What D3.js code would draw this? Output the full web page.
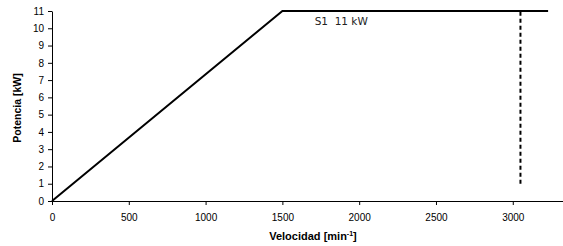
<!DOCTYPE html>
<html><head><meta charset="utf-8">
<script src="https://cdn.jsdelivr.net/npm/d3@7"></script>
<style>body{margin:0;background:#fff}svg{display:block}</style>
</head><body>
<svg id="c" width="563" height="246"></svg>
<script>
const xTicks = [0, 500, 1000, 1500, 2000, 2500, 3000];
const yTicks = [0,1,2,3,4,5,6,7,8,9,10,11];
const powerCurveX = [0, 1500, 3230];
const powerCurveY = [0, 11, 11];
const limitX = [3050, 3050];
const limitY = [1, 11];
const labelText = "S1  11 kW";

const svg = d3.select("#c");
const x = d3.scaleLinear().domain([0, 3327]).range([52, 563]);
const y = d3.scaleLinear().domain([0, 11]).range([201, 11]);

const xa = svg.append("g").attr("transform","translate(0,201)")
  .call(d3.axisBottom(x).tickValues(xTicks).tickSize(4).tickSizeOuter(0).tickFormat(d3.format("d")));
const ya = svg.append("g").attr("transform","translate(52,0)")
  .call(d3.axisLeft(y).tickValues(yTicks).tickSize(4).tickSizeOuter(0));
[xa, ya].forEach(a=>{
  a.selectAll("path,line").attr("stroke","#000").attr("stroke-width",1);
  a.selectAll("text").attr("font-family","Liberation Sans, Arial, sans-serif").attr("font-size","10px").attr("fill","#000");
});
xa.selectAll("text").attr("dy","1.25em");
ya.selectAll("text").attr("dx","-1px");

const line = d3.line().x(d=>x(d[0])).y(d=>y(d[1]));
svg.append("path").datum(powerCurveX.map((v,i)=>[v, powerCurveY[i]]))
  .attr("d", line).attr("fill","none").attr("stroke","#000").attr("stroke-width",2);
svg.append("path").datum(limitX.map((v,i)=>[v, limitY[i]]))
  .attr("d", line).attr("fill","none").attr("stroke","#000").attr("stroke-width",2)
  .attr("stroke-dasharray","4,3");

svg.append("text").attr("x", x(1710)).attr("y", y(10.2))
  .attr("font-family","DejaVu Sans, Open Sans, sans-serif").attr("font-size","10.5px").attr("fill","#222")
  .attr("xml:space","preserve").style("white-space","pre").text(labelText);

const xt = svg.append("text").attr("x", 313).attr("y", 240).attr("text-anchor","middle")
  .attr("font-family","Liberation Sans, Arial, sans-serif").attr("font-size","11px").attr("font-weight","bold");
xt.append("tspan").text("Velocidad [min");
xt.append("tspan").attr("dy","-4").attr("font-size","7px").text("-1");
xt.append("tspan").attr("dy","4").text("]");

svg.append("text").attr("transform","translate(21,108) rotate(-90)").attr("text-anchor","middle")
  .attr("font-family","Liberation Sans, Arial, sans-serif").attr("font-size","10.5px").attr("font-weight","bold")
  .text("Potencia [kW]");
</script>
</body></html>
